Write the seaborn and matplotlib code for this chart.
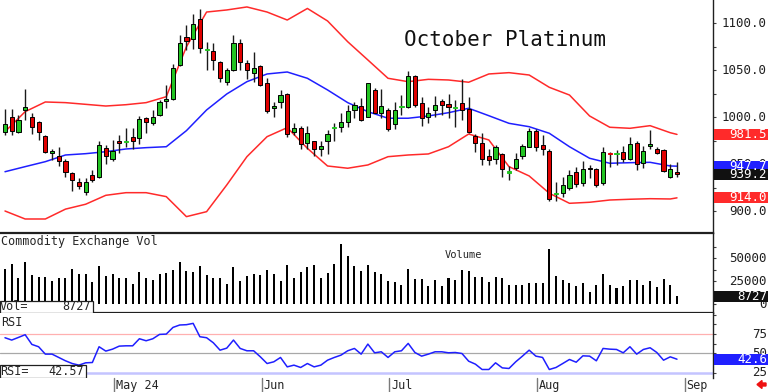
import numpy as np
import pandas as pd
import matplotlib
matplotlib.use("Agg")
import matplotlib.pyplot as plt
import matplotlib.patches as mpatches
import matplotlib.transforms as mtrans
import seaborn as sns

# trading days on the chart (Apr 9 - Aug 30 2024, exchange holidays removed)
dates = pd.bdate_range("2024-04-09", "2024-08-30")
dates = dates[~dates.isin(pd.to_datetime(["2024-05-27", "2024-06-19", "2024-07-04"]))]

opens = [984, 1000, 984.5, 1007.5, 1000.5, 995, 980, 961.5, 958.5, 953,
         940, 931, 920.5, 938.5, 936.5, 967.5, 955, 975, 973.5, 978.5,
         977.5, 998.5, 994, 1002, 1017, 1019, 1055.5, 1085.5, 1083.5, 1104.5,
         1071, 1070.5, 1059, 1037.5, 1050, 1078.5, 1058, 1046.5, 1054.5, 1036.5,
         1009.5, 1015.5, 1025, 984.5, 988.5, 972, 974, 966.5, 974, 988.5,
         989, 995, 1007, 1011.5, 1000.5, 1028.5, 1004.5, 1007.5, 992.5, 1010.5,
         1011, 1043.5, 1014.5, 999.5, 1007, 1017, 1014, 1009.5, 1014.5, 1008,
         980, 972.5, 958.5, 955, 960.5, 941, 945.5, 958, 968.5, 985.5,
         970, 964, 918, 919, 925, 941, 929.5, 946, 944.5, 930,
         961.5, 960.5, 963, 955, 972.5, 951.5, 969, 966.5, 965, 936.5,
         942]
highs = [1008, 1009, 1002, 1029.5, 1004.5, 996, 981, 966, 968.5, 955,
         941, 935, 935, 943.5, 974, 970, 975.5, 981, 988.5, 988,
         1001, 1000.5, 1007.5, 1018, 1034, 1056, 1087, 1098, 1109.5, 1114.5,
         1080, 1078.5, 1060, 1052, 1087, 1082.5, 1060.5, 1069.5, 1055.5, 1041,
         1016.5, 1028.5, 1026, 993.5, 990, 990, 975, 974, 986, 993.5,
         1004, 1013, 1016.5, 1020, 1036.5, 1030.5, 1029.5, 1009.5, 1016.5, 1023.5,
         1048.5, 1044.5, 1021.5, 1011, 1022.5, 1019, 1024.5, 1018, 1040.5, 1021.5,
         982, 982.5, 966.5, 970, 961.5, 948, 961.5, 971.5, 988, 987,
         981, 965.5, 931, 936.5, 943.5, 947, 953, 948.5, 946, 968.5,
         963, 965, 969, 979, 974, 969.5, 986, 968, 965.5, 950.5,
         952.5]
lows = [981, 981, 983.5, 997, 982, 976, 961.5, 954.5, 948, 936.5,
        921.5, 923, 917, 931, 935, 950, 953.5, 962, 968.5, 966.5,
        971.5, 982.5, 991.5, 1001, 1009.5, 1018, 1054, 1071.5, 1072, 1068,
        1049.5, 1050.5, 1037.5, 1034, 1048.5, 1050, 1040, 1037.5, 1032.5, 1004.5,
        1000.5, 1009.5, 979, 981, 966.5, 965.5, 958, 958.5, 960.5, 974,
        984.5, 989, 998.5, 996, 999.5, 1004, 998.5, 985, 987, 1002,
        1010, 1011, 990.5, 994, 999.5, 1002, 998.5, 989, 997, 982.5,
        963, 949, 949, 950.5, 936, 933, 943.5, 955, 968, 964,
        959.5, 911, 911, 914.5, 922.5, 926, 926.5, 935, 926, 927.5,
        947, 949, 952.5, 954.5, 943.5, 945.5, 965.5, 960.5, 942, 935,
        936.5]
closes = [993, 985.5, 997, 1011, 989, 984.5, 963, 964, 953.5, 942,
          933.5, 926.5, 931, 933, 970, 958.5, 964, 972, 974.5, 974,
          998, 994.5, 999.5, 1016.5, 1019, 1052, 1079, 1081, 1098.5, 1073,
          1072, 1060.5, 1041, 1050, 1078.5, 1059, 1049.5, 1052.5, 1034, 1006.5,
          1011.5, 1023.5, 982, 988.5, 971.5, 983.5, 966.5, 969.5, 981.5, 989.5,
          995, 1006.5, 1013, 997, 1036, 1004.5, 1012, 987, 1007, 1011.5,
          1044, 1013, 998.5, 1004.5, 1013, 1013, 1010.5, 1010.5, 1007, 984.5,
          972.5, 955, 954.5, 968, 944.5, 942, 955.5, 969, 985.5, 968.5,
          966.5, 912.5, 919, 927.5, 938.5, 928.5, 944.5, 944.5, 927.5, 963,
          960.5, 961.5, 955, 971.5, 950.5, 964, 971.5, 961.5, 943, 944.5,
          939.2]

volume = [39100, 43500, 29300, 45700, 31900, 30400, 30400, 25700, 28600, 28300,
          38800, 32600, 33300, 24600, 42000, 31200, 33000, 28600, 29300, 22100,
          35500, 28600, 26100, 33000, 34100, 38000, 46700, 36600, 34800, 42000,
          31900, 29300, 29300, 22100, 40600, 25700, 31200, 33000, 32200, 37000,
          33000, 25000, 43100, 28600, 34800, 40600, 43100, 29300, 34100, 44200,
          65600, 52900, 42000, 36600, 42400, 35500, 33000, 25700, 24600, 21400,
          38800, 27900, 27200, 19600, 26100, 19600, 28300, 26500, 38000, 35900,
          30400, 29700, 24300, 30400, 29000, 20700, 21400, 21400, 23200, 23200,
          23500, 59800, 31500, 26100, 23500, 19600, 23200, 14100, 20700, 33300,
          21700, 18100, 19600, 26800, 26100, 20700, 25000, 18800, 27200, 20700,
          8727]

rsi = [70.2, 67.2, 70.6, 74.1, 61.6, 58.6, 49.1, 49.1, 44.8, 40.5,
       37, 34.9, 37.9, 38.3, 58.6, 53, 55.5, 59.4, 59.8, 59.8,
       68.9, 66.3, 68.9, 74.5, 74.9, 83.5, 86.6, 87, 88.7, 71.5,
       70.2, 63.7, 54.2, 56.8, 67.2, 56.4, 53.4, 53.4, 45.6, 37,
       39.2, 44.8, 32.7, 34.9, 31.9, 37, 32.7, 34.9, 41.3, 44.8,
       47.8, 53.4, 56.4, 49.1, 62, 50.8, 52.1, 44.8, 52.1, 53.4,
       62.9, 51.2, 46.5, 49.1, 52.1, 52.1, 50.8, 51.2, 49.9, 40,
       36.2, 29.3, 29.3, 37.9, 31.4, 30.6, 39.2, 46.5, 54.2, 46.5,
       44.8, 29.3, 31.9, 37, 42.2, 38.7, 46.9, 46.5, 40.5, 56.4,
       55.5, 55.1, 50.8, 58.6, 49.1, 55.1, 57.3, 51.2, 41.3, 45.6,
       42.57]

# bollinger bands read every third session
band_idx = list(range(0, 100, 3)) + [100]
bb_upper = [984.4, 1005.7, 1016, 1015.3, 1013.5, 1011.7, 1013.1, 1015.3, 1021.6, 1074.8,
            1111.7, 1113.9, 1117.1, 1111.7, 1103.2, 1115.5, 1102.2, 1080.1, 1060.7, 1041.2,
            1037.6, 1040.1, 1039.4, 1037, 1045.8, 1047.2, 1044.7, 1031.6, 1023.4, 1001.1,
            989.1, 988, 990.8, 983.3, 981.5]
bb_mid = [941.8, 947.2, 952.5, 959.6, 961, 963.1, 966, 967.4, 968.4, 985.5,
          1007.5, 1024.5, 1037.6, 1045.8, 1047.9, 1041.2, 1028.8, 1015.3, 1005.7, 998.7,
          998.7, 1001.1, 1004.6, 1009.3, 1001.4, 993.3, 989.7, 982.7, 968.4, 956.1,
          950.8, 951.4, 951.8, 947.9, 947.7]
bb_lower = [900, 891.5, 891.5, 902, 907.2, 916.7, 919.5, 919.5, 915.3, 894,
            899.3, 927.7, 957.8, 979.1, 988.7, 966.7, 947.9, 945.5, 949, 957.8,
            959.6, 960.7, 968.4, 981.9, 975.6, 947.2, 937.3, 918.9, 908.2, 909.3,
            911.7, 912.5, 913.1, 912.8, 914.0]

month_labels = ["May 24", "Jun", "Jul", "Aug", "Sep"]

sns.set_style("white")
plt.rcParams["font.family"] = ["DejaVu Sans Mono"]

GREEN = "#22c422"
RED = "#e00000"
BAND_RED = "#ff2a2a"
BLUE = "#1f1fff"

idx = np.arange(len(dates))
o = np.array(opens); h = np.array(highs); l = np.array(lows); c = np.array(closes)
month_pos = [int(np.argmax(dates.month == m)) for m in (5, 6, 7, 8)] + [len(dates)]

fig = plt.figure(figsize=(7.68, 3.92), dpi=100)
W = 713 / 768
ax = fig.add_axes([0, (392 - 233) / 392, W, 233 / 392])
axv = fig.add_axes([0, (392 - 312.5) / 392, W, 79.5 / 392])
axr = fig.add_axes([0, (392 - 378) / 392, W, 65.5 / 392])

xlim = (-0.744, 105.36)
for a in (ax, axv, axr):
    a.set_xlim(*xlim)
    a.set_xticks([])
    for s in ("left", "top", "bottom"):
        a.spines[s].set_visible(False)
    a.spines["right"].set_color("#202020")
    a.spines["right"].set_linewidth(1)
    a.yaxis.tick_right()
    a.tick_params(axis="y", direction="out", length=2.5, width=0.8, color="#404040",
                  labelright=False, labelleft=False)

# ---- price panel
ax.set_ylim(876.6, 1124.5)
ax.set_yticks(np.arange(900, 1125, 25))
sns.lineplot(x=band_idx, y=bb_upper, color=BAND_RED, lw=1.1, ax=ax, zorder=1)
sns.lineplot(x=band_idx, y=bb_lower, color=BAND_RED, lw=1.1, ax=ax, zorder=1)
sns.lineplot(x=band_idx, y=bb_mid, color=BLUE, lw=1.1, ax=ax, zorder=1)

up = c >= o
doji = np.abs(c - o) < 1.5
col = np.where(up, GREEN, RED)
ax.vlines(idx, l, h, color="#1a1a1a", lw=1, zorder=2)
body_h = np.where(doji, 1.3, np.abs(c - o))
body_b = np.where(doji, (o + c) / 2 - 0.65, np.minimum(o, c))
edges = np.where(doji, col, "black")
ax.bar(idx, body_h, bottom=body_b, width=0.62, color=col, edgecolor=edges,
       linewidth=0.7, zorder=3)

ax.text(404 / 713, (233 - 40) / 233, "October Platinum", transform=ax.transAxes,
        fontsize=15, va="center", ha="left", color="#111111")

# ---- volume panel
axv.set_ylim(-8700, 77700)
axv.set_yticks(np.arange(0, 75000, 12500))
axv.bar(idx, volume, width=0.3, color="black", linewidth=0, antialiased=False, zorder=2)
for s in ("top", "bottom"):
    axv.spines[s].set_visible(True)
    axv.spines[s].set_color("#202020")
    axv.spines[s].set_linewidth(1.6)
axv.text(1 / 713, (312.5 - 242) / 79.5, "Commodity Exchange Vol", transform=axv.transAxes,
         fontsize=8.5, va="center", ha="left")
axv.text(445 / 713, (312.5 - 255) / 79.5, "Volume", transform=axv.transAxes,
         fontsize=7.5, va="center", ha="left")
axv.add_patch(mpatches.Rectangle((0, 0), 93 / 713, 12 / 79.5, transform=axv.transAxes,
                                 facecolor="white", edgecolor="#202020", lw=0.9, zorder=4))
axv.text(0, 6 / 79.5, "Vol=", transform=axv.transAxes, fontsize=8.5, va="center",
         ha="left", zorder=5)
axv.text(91 / 713, 6 / 79.5, f"{volume[-1]}", transform=axv.transAxes, fontsize=8.5,
         va="center", ha="right", zorder=5)

# ---- RSI panel
axr.set_ylim(18.35, 102.7)
axr.set_yticks(np.arange(25, 101, 12.5))
axr.axhline(75, color="#ffb0b0", lw=0.9, zorder=1)
axr.axhline(50, color="#a8a8a8", lw=0.9, zorder=1)
axr.axhline(25, color="#c4c4ff", lw=1.8, zorder=1)
sns.lineplot(x=idx, y=rsi, color=BLUE, lw=1.1, ax=axr, zorder=2)
axr.text(1 / 713, (378 - 322) / 65.5, "RSI", transform=axr.transAxes, fontsize=8.5,
         va="center", ha="left")
axr.add_patch(mpatches.Rectangle((0, 0), 86 / 713, 13.5 / 65.5, transform=axr.transAxes,
                                 facecolor="white", edgecolor="#202020", lw=0.9, zorder=4))
axr.text(0, 6.5 / 65.5, "RSI=", transform=axr.transAxes, fontsize=8.5, va="center",
         ha="left", zorder=5)
axr.text(84 / 713, 6.5 / 65.5, f"{rsi[-1]:.2f}", transform=axr.transAxes, fontsize=8.5,
         va="center", ha="right", zorder=5)

# month ticks under the RSI panel
tick_tr = mtrans.blended_transform_factory(axr.transData, axr.transAxes)
for p, lab in zip(month_pos, month_labels):
    axr.plot([p + 0.2, p + 0.2], [0, -14 / 65.5], color="#7a7a7a", lw=1,
             transform=tick_tr, clip_on=False)
    axr.text(p + 0.45, -7.5 / 65.5, lab, transform=tick_tr, fontsize=8.5,
             va="center", ha="left")

# ---- right-hand scale labels and value tags
LX = 767 / 713


def scale_label(a, val, txt):
    a.text(LX, val, txt, transform=a.get_yaxis_transform(), fontsize=9, ha="right",
           va="center", color="#202020", zorder=4, clip_on=False)


def tag(a, val, txt, bg, upp):
    tr = a.get_yaxis_transform()
    hgt = 11 * upp
    a.add_patch(mpatches.Rectangle((714 / 713, val - hgt / 2), 54 / 713, hgt,
                                   transform=tr, facecolor=bg, edgecolor="none",
                                   clip_on=False, zorder=6))
    a.text(LX, val, txt, transform=tr, fontsize=9, ha="right", va="center",
           color="white", zorder=7, clip_on=False)


for v in (1100, 1050, 1000, 950, 900):
    scale_label(ax, v, f"{v:.1f}")
tag(ax, bb_upper[-1], f"{bb_upper[-1]:.1f}", "#ff2a2a", 1.064)
tag(ax, bb_mid[-1], f"{bb_mid[-1]:.1f}", "#2020ff", 1.064)
tag(ax, closes[-1], f"{closes[-1]:.1f}", "#111111", 1.064)
tag(ax, bb_lower[-1], f"{bb_lower[-1]:.1f}", "#ff2a2a", 1.064)

for v in (50000, 25000, 0):
    scale_label(axv, v, f"{v}")
tag(axv, volume[-1], f"{volume[-1]}", "#111111", 1087)

for v in (75, 50, 25):
    scale_label(axr, v, f"{v}")
tag(axr, rsi[-1], f"{rsi[-1]:.1f}", "#2020ff", 1.29)

# little red arrow, bottom right
fig.add_artist(mpatches.FancyArrow(766, 7.5, -9, 0, width=3, head_width=8, head_length=5,
                                   length_includes_head=True, color="#ee1111",
                                   transform=mtrans.IdentityTransform()))

fig.savefig("out.png", dpi=100)
